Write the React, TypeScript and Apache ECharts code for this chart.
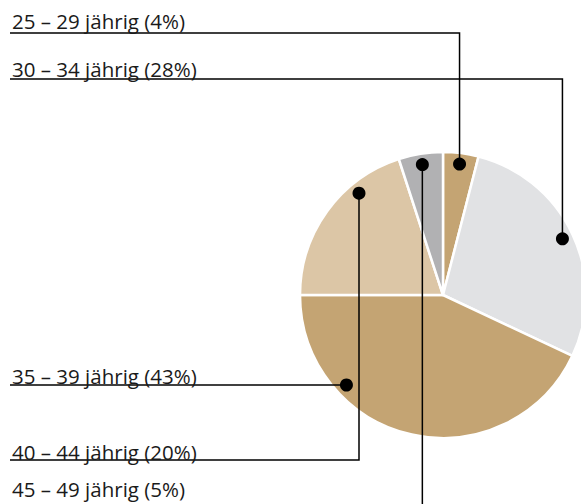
import React, { useEffect, useRef } from "react";
import * as echarts from "echarts";

// ---- data ----
const categories = ["25 – 29 jährig", "30 – 34 jährig", "35 – 39 jährig", "40 – 44 jährig", "45 – 49 jährig"];
const shares = [4, 28, 43, 20, 5];
const sliceColors = ["#c4a473", "#e1e2e4", "#c4a473", "#dcc6a6", "#b1b1b3"];

// ---- layout (styling only) ----
const W = 581;
const H = 504;
const CX = 443;
const CY = 295;
const R = 143;
const DOT_R = 132;
const FONT_SIZE = 20.5;
const FONT = "Open Sans";
const LINE_LEFT = 10;
const TEXT_LEFT = 12;
// per label: text baseline, underline y, and how the dot is anchored on the slice
const labelLayouts: { baseline: number; lineY: number; mode: "mid" | "y" | "x"; anchorX?: number }[] = [
  { baseline: 27, lineY: 33, mode: "mid" },
  { baseline: 75, lineY: 79, mode: "mid" },
  { baseline: 382, lineY: 385, mode: "y" },
  { baseline: 458, lineY: 460, mode: "x", anchorX: 359 },
  { baseline: 495, lineY: 515, mode: "mid" },
];

export default function App() {
  const ref = useRef<HTMLDivElement>(null);
  useEffect(() => {
    if (!ref.current) return;
    const chart = echarts.init(ref.current, undefined, { renderer: "svg" });
    const total = shares.reduce((a, b) => a + b, 0);
    let cum = 0;
    const elements: any[] = [];
    shares.forEach((v, i) => {
      const lay = labelLayouts[i];
      const midDeg = ((cum + v / 2) / total) * 360;
      cum += v;
      let dx: number, dy: number;
      if (lay.mode === "mid") {
        const t = (midDeg * Math.PI) / 180;
        dx = CX + DOT_R * Math.sin(t);
        dy = CY - DOT_R * Math.cos(t);
      } else if (lay.mode === "y") {
        dy = lay.lineY;
        dx = CX - Math.sqrt(DOT_R * DOT_R - (dy - CY) * (dy - CY));
      } else {
        dx = lay.anchorX as number;
        dy = CY - Math.sqrt(DOT_R * DOT_R - (dx - CX) * (dx - CX));
      }
      const pts =
        lay.mode === "y"
          ? [[dx, dy], [LINE_LEFT, lay.lineY]]
          : [[dx, dy], [dx, lay.lineY], [LINE_LEFT, lay.lineY]];
      elements.push({
        type: "polyline",
        z: 100,
        silent: true,
        shape: { points: pts },
        style: { stroke: "#000", lineWidth: 1.5, fill: null },
      });
      elements.push({
        type: "circle",
        z: 101,
        silent: true,
        shape: { cx: dx, cy: dy, r: 6.5 },
        style: { fill: "#000" },
      });
      elements.push({
        type: "text",
        z: 102,
        silent: true,
        style: {
          text: `${categories[i]} (${v}%)`,
          x: TEXT_LEFT,
          y: lay.baseline - 0.3 * FONT_SIZE,
          fill: "#1a1a1a",
          fontSize: FONT_SIZE,
          fontFamily: FONT,
          align: "left",
          verticalAlign: "middle",
        },
      });
    });

    chart.setOption({
      animation: false,
      backgroundColor: "#ffffff",
      series: [
        {
          type: "pie",
          center: [CX, CY],
          radius: [0, R],
          startAngle: 90,
          clockwise: true,
          silent: true,
          label: { show: false },
          labelLine: { show: false },
          emphasis: { disabled: true },
          itemStyle: { borderColor: "#ffffff", borderWidth: 2.5 },
          data: categories.map((c, i) => ({
            name: c,
            value: shares[i],
            itemStyle: { color: sliceColors[i] },
          })),
        },
      ],
      graphic: elements,
    });
    return () => chart.dispose();
  }, []);
  return (
    <div
      ref={ref}
      style={{ position: "absolute", left: 0, top: 0, width: W, height: H }}
    />
  );
}
